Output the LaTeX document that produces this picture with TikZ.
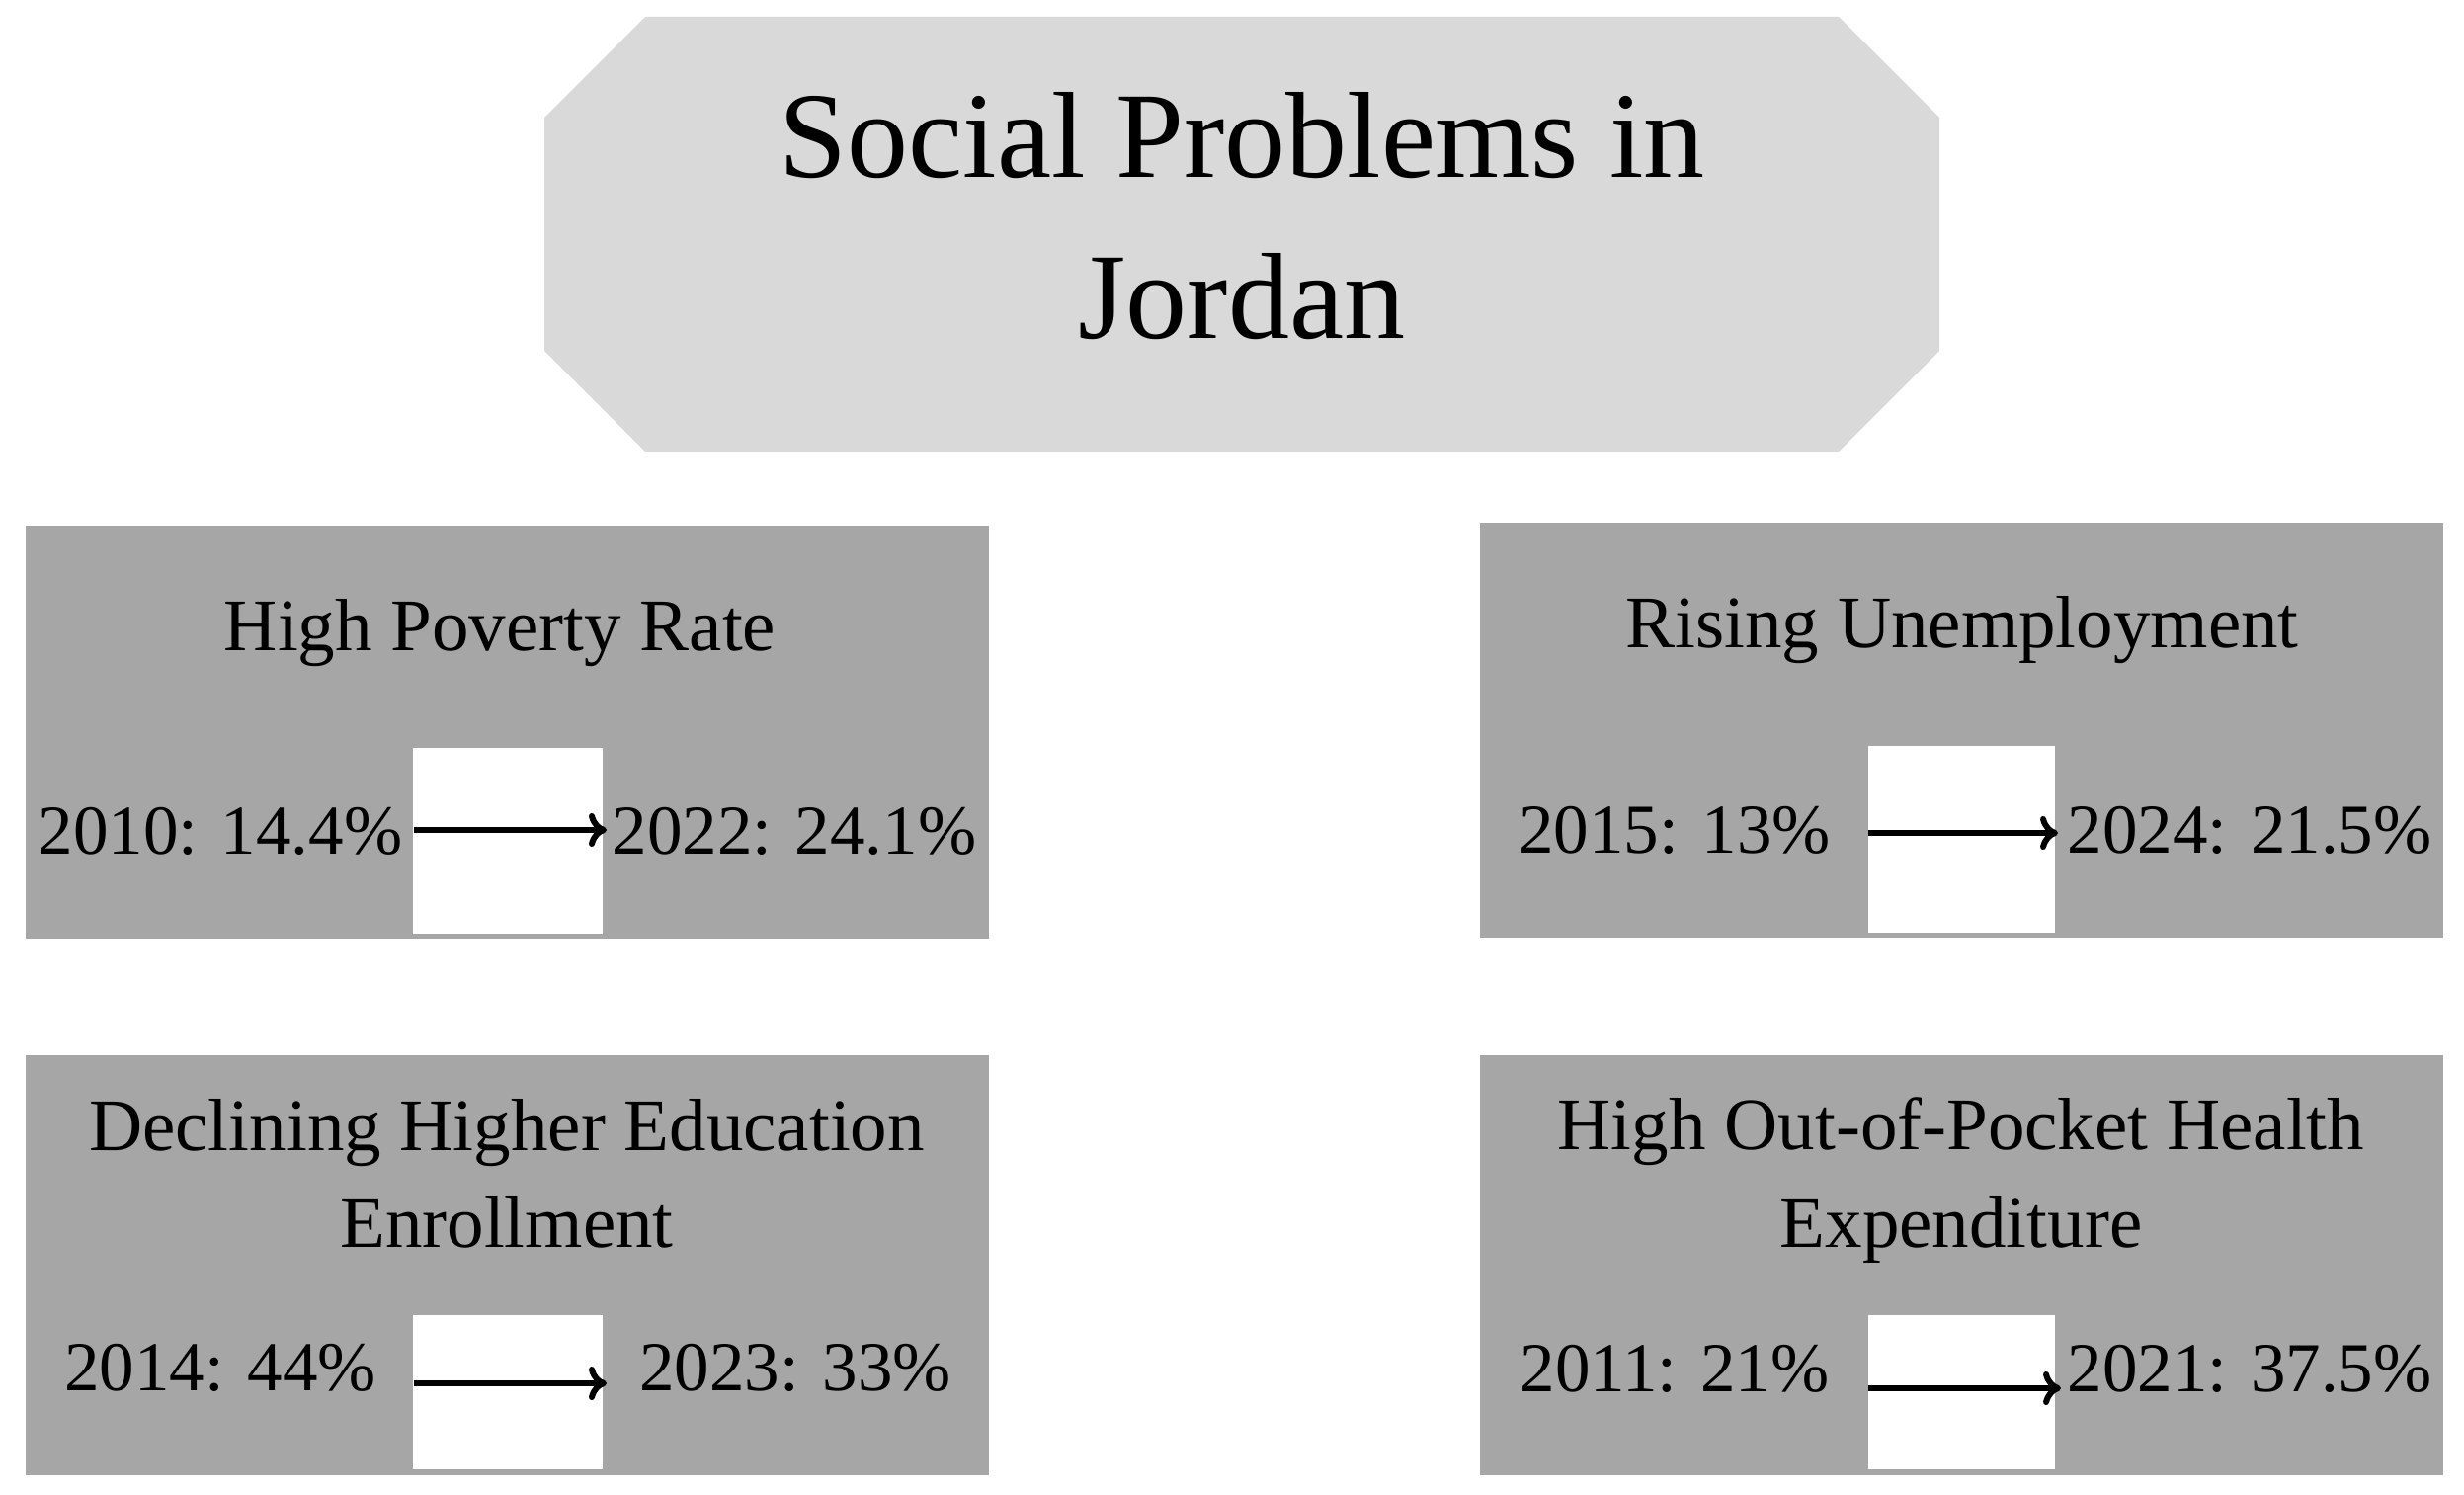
\documentclass[tikz,border=0pt]{standalone}
\usepackage{fontspec}
\setmainfont{Liberation Serif}
\usetikzlibrary{arrows.meta}
\definecolor{titlegray}{HTML}{D9D9D9}
\definecolor{boxgray}{HTML}{A6A6A6}
\begin{document}
\begin{tikzpicture}[x=0.5pt,y=-0.5pt,
  probbox/.style={fill=boxgray, draw=none, inner sep=0pt, outer sep=0pt,
    minimum width=487.5pt, anchor=north west},
  gapbox/.style={fill=white, draw=none, inner sep=0pt, outer sep=0pt, anchor=north west},
  bigtitle/.style={font=\fontsize{62pt}{81.5pt}\selectfont, anchor=base, inner sep=0pt},
  boxtitle/.style={font=\fontsize{37.5pt}{49pt}\selectfont, anchor=base, inner sep=0pt},
  numtext/.style={font=\fontsize{35.5pt}{44pt}\selectfont, anchor=base, inner sep=0pt},
  trend/.style={line width=3pt, -{To[length=9pt,width=17pt]}}
]
\useasboundingbox (0,0) rectangle (2494,1513);
\fill[white] (0,0) rectangle (2494,1513);

% title octagon
\fill[titlegray] (653,17) -- (1861,17) -- (1963,119) -- (1963,355) -- (1861,457)
  -- (653,457) -- (551,355) -- (551,119) -- cycle;
\node[bigtitle] (t1) at (1257,180) {Social Problems in};
\node[bigtitle] (t2) at (1257,343) {Jordan};

% boxes
\node[probbox, minimum height=209pt] (b1) at (26,532) {};
\node[probbox, minimum height=210pt] (b2) at (1498,529) {};
\node[probbox, minimum height=212.5pt] (b3) at (26,1068) {};
\node[probbox, minimum height=212.5pt] (b4) at (1498,1068) {};

% white gaps
\node[gapbox, minimum width=96pt, minimum height=94pt] (w1) at (418,757) {};
\node[gapbox, minimum width=94.5pt, minimum height=94.5pt] (w2) at (1891,755) {};
\node[gapbox, minimum width=96pt, minimum height=78pt] (w3) at (418,1331) {};
\node[gapbox, minimum width=94.5pt, minimum height=78pt] (w4) at (1891,1331) {};

% box titles
\node[boxtitle] (h1) at (506,658) {High Poverty Rate};
\node[boxtitle] (h2) at (1986,655) {Rising Unemployment};
\node[boxtitle] (h3a) at (513,1164) {Declining Higher Education};
\node[boxtitle] (h3b) at (513,1262) {Enrollment};
\node[boxtitle] (h4a) at (1985,1163) {High Out-of-Pocket Health};
\node[boxtitle] (h4b) at (1985,1262) {Expenditure};

% numbers
\node[numtext] (n1a) at (223,864) {2010: 14.4\%};
\node[numtext] (n1b) at (804,864) {2022: 24.1\%};
\node[numtext] (n2a) at (1695,863) {2015: 13\%};
\node[numtext] (n2b) at (2277,863) {2024: 21.5\%};
\node[numtext] (n3a) at (223,1407) {2014: 44\%};
\node[numtext] (n3b) at (805,1407) {2023: 33\%};
\node[numtext] (n4a) at (1695,1408) {2011: 21\%};
\node[numtext] (n4b) at (2277,1408) {2021: 37.5\%};

% arrows
\coordinate (a1s) at (419,840);  \coordinate (a1e) at (614,840);
\coordinate (a2s) at (1891,843); \coordinate (a2e) at (2083,843);
\coordinate (a3s) at (419,1400); \coordinate (a3e) at (614,1400);
\coordinate (a4s) at (1891,1405); \coordinate (a4e) at (2086,1405);
\draw[trend] (a1s) -- (a1e);
\draw[trend] (a2s) -- (a2e);
\draw[trend] (a3s) -- (a3e);
\draw[trend] (a4s) -- (a4e);
\end{tikzpicture}
\end{document}
